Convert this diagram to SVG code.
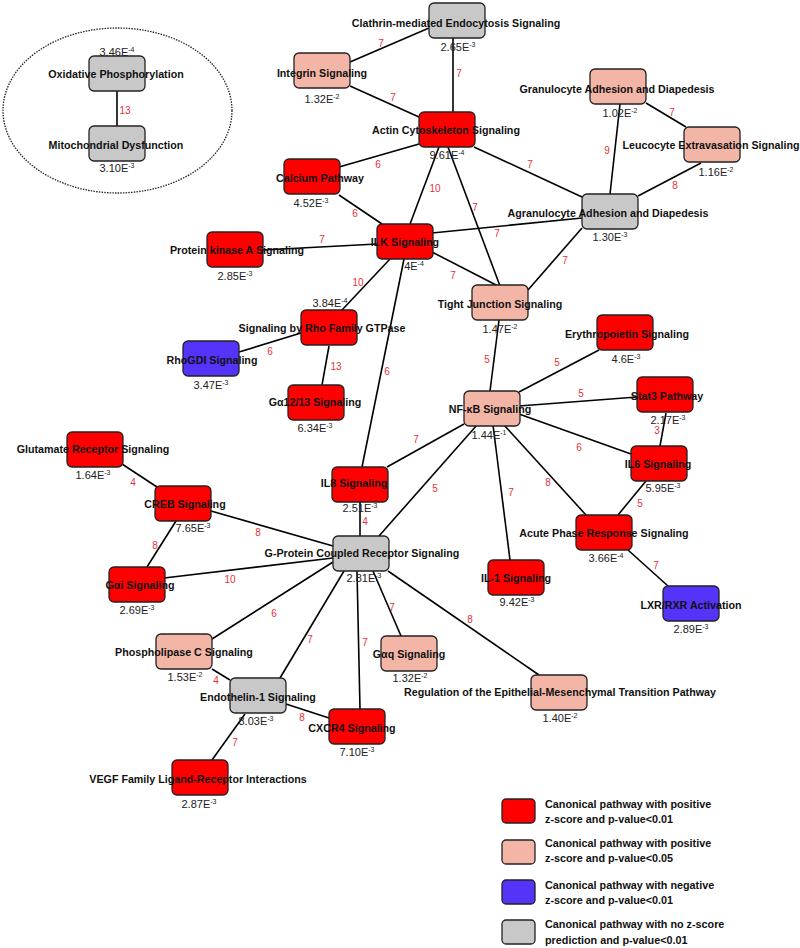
<svg xmlns="http://www.w3.org/2000/svg" width="800" height="948" viewBox="0 0 800 948">
<style>
.bx{stroke:#222;stroke-width:1.3}
.r{fill:#FF0000}.s{fill:#F3B5A6}.b{fill:#5533F8}.g{fill:#C8C8C8}
.lb{font-family:"Liberation Sans",Arial,sans-serif;font-weight:bold;font-size:10.7px;fill:#111;text-anchor:middle}
.pv{font-family:"Liberation Sans",Arial,sans-serif;font-size:11px;fill:#222;text-anchor:middle}
.pv tspan{font-size:7px}
.el{font-family:"Liberation Sans",Arial,sans-serif;font-size:10px;fill:#E8303A;text-anchor:middle}
.ln{stroke:#000;stroke-width:1.6;fill:none}
.lg{font-family:"Liberation Sans",Arial,sans-serif;font-weight:bold;font-size:10.8px;fill:#111}
</style>
<rect width="800" height="948" fill="#fff"/>
<ellipse id="cluster" cx="117.5" cy="110.5" rx="114.5" ry="82.5" fill="none" stroke="#222" stroke-width="1.3" stroke-dasharray="1.5,1.2"/>
<g id="connectors">
<line class="ln" x1="117" y1="91" x2="117" y2="126"/><text class="el" x="125" y="114">13</text>
<line class="ln" x1="350" y1="62" x2="429" y2="28"/><text class="el" x="381" y="47">7</text>
<line class="ln" x1="453" y1="38" x2="453" y2="112"/><text class="el" x="459" y="77">7</text>
<line class="ln" x1="350" y1="86" x2="419" y2="117"/><text class="el" x="393" y="101">7</text>
<line class="ln" x1="419" y1="144" x2="339" y2="167"/><text class="el" x="378" y="168">6</text>
<line class="ln" x1="339" y1="195" x2="382" y2="224"/><text class="el" x="355" y="217">6</text>
<line class="ln" x1="439" y1="147" x2="410" y2="224"/><text class="el" x="435" y="192">10</text>
<line class="ln" x1="448" y1="147" x2="500" y2="286"/><text class="el" x="475" y="211">7</text>
<line class="ln" x1="474" y1="147" x2="582" y2="197"/><text class="el" x="530" y="168">7</text>
<line class="ln" x1="646" y1="103" x2="686" y2="127"/><text class="el" x="672" y="116">7</text>
<line class="ln" x1="620" y1="104" x2="610" y2="194"/><text class="el" x="607" y="154">9</text>
<line class="ln" x1="701" y1="163" x2="638" y2="196"/><text class="el" x="675" y="189">8</text>
<line class="ln" x1="432" y1="233" x2="582" y2="218"/><text class="el" x="497" y="237">7</text>
<line class="ln" x1="582" y1="228" x2="528" y2="290"/><text class="el" x="565" y="264">7</text>
<line class="ln" x1="263" y1="250" x2="377" y2="244"/><text class="el" x="322" y="243">7</text>
<line class="ln" x1="390" y1="259" x2="342" y2="310"/><text class="el" x="358" y="286">10</text>
<line class="ln" x1="404" y1="259" x2="362" y2="467"/><text class="el" x="387" y="375">6</text>
<line class="ln" x1="432" y1="252" x2="500" y2="287"/><text class="el" x="453" y="279">7</text>
<line class="ln" x1="239" y1="352" x2="301" y2="333"/><text class="el" x="270" y="355">6</text>
<line class="ln" x1="329" y1="346" x2="322" y2="385"/><text class="el" x="336" y="370">13</text>
<line class="ln" x1="499" y1="320" x2="490" y2="391"/><text class="el" x="487" y="363">5</text>
<line class="ln" x1="464" y1="424" x2="387" y2="467"/><text class="el" x="416" y="443">7</text>
<line class="ln" x1="519" y1="392" x2="599" y2="350"/><text class="el" x="557" y="366">5</text>
<line class="ln" x1="519" y1="406" x2="637" y2="397"/><text class="el" x="581" y="397">5</text>
<line class="ln" x1="666" y1="413" x2="660" y2="446"/><text class="el" x="657" y="434">3</text>
<line class="ln" x1="519" y1="414" x2="631" y2="454"/><text class="el" x="579" y="451">6</text>
<line class="ln" x1="504" y1="425" x2="586" y2="515"/><text class="el" x="548" y="486">8</text>
<line class="ln" x1="493" y1="425" x2="510" y2="560"/><text class="el" x="511" y="496">7</text>
<line class="ln" x1="477" y1="425" x2="379" y2="536"/><text class="el" x="435" y="492">5</text>
<line class="ln" x1="646" y1="481" x2="618" y2="515"/><text class="el" x="640" y="507">5</text>
<line class="ln" x1="628" y1="550" x2="668" y2="586"/><text class="el" x="656" y="569">7</text>
<line class="ln" x1="122" y1="464" x2="157" y2="487"/><text class="el" x="133" y="486">4</text>
<line class="ln" x1="176" y1="521" x2="147" y2="567"/><text class="el" x="155" y="549">8</text>
<line class="ln" x1="211" y1="511" x2="333" y2="546"/><text class="el" x="258" y="536">8</text>
<line class="ln" x1="164" y1="578" x2="333" y2="558"/><text class="el" x="230" y="583">10</text>
<line class="ln" x1="360" y1="502" x2="360" y2="536"/><text class="el" x="365" y="525">4</text>
<line class="ln" x1="212" y1="639" x2="333" y2="562"/><text class="el" x="274" y="617">6</text>
<line class="ln" x1="212" y1="669" x2="230" y2="680"/><text class="el" x="216" y="684">4</text>
<line class="ln" x1="344" y1="571" x2="280" y2="678"/><text class="el" x="310" y="643">7</text>
<line class="ln" x1="357" y1="571" x2="360" y2="709"/><text class="el" x="365" y="646">7</text>
<line class="ln" x1="373" y1="571" x2="401" y2="636"/><text class="el" x="392" y="611">7</text>
<line class="ln" x1="388" y1="571" x2="539" y2="675"/><text class="el" x="470" y="623">8</text>
<line class="ln" x1="286" y1="704" x2="329" y2="718"/><text class="el" x="302" y="721">8</text>
<line class="ln" x1="245" y1="714" x2="212" y2="760"/><text class="el" x="235" y="746">7</text>
</g>
<g id="n-oxphos"><rect class="bx g" x="89" y="56" width="56" height="35" rx="5"/><text class="lb" x="116" y="78">Oxidative Phosphorylation</text><text class="pv" x="117" y="56">3.46E<tspan dy="-4">-4</tspan></text></g>
<g id="n-mito"><rect class="bx g" x="89" y="126" width="56" height="35" rx="5"/><text class="lb" x="116" y="149">Mitochondrial Dysfunction</text><text class="pv" x="117" y="172">3.10E<tspan dy="-4">-3</tspan></text></g>
<g id="n-clathrin"><rect class="bx g" x="429" y="3" width="56" height="35" rx="5"/><text class="lb" x="456" y="27">Clathrin-mediated Endocytosis Signaling</text><text class="pv" x="458" y="51">2.65E<tspan dy="-4">-3</tspan></text></g>
<g id="n-integrin"><rect class="bx s" x="294" y="53" width="56" height="35" rx="5"/><text class="lb" x="322" y="77">Integrin Signaling</text><text class="pv" x="322" y="103">1.32E<tspan dy="-4">-2</tspan></text></g>
<g id="n-actin"><rect class="bx r" x="419" y="112" width="56" height="35" rx="5"/><text class="lb" x="446" y="134">Actin Cytoskeleton Signaling</text><text class="pv" x="447" y="159">9.61E<tspan dy="-4">-4</tspan></text></g>
<g id="n-granulocyte"><rect class="bx s" x="590" y="69" width="56" height="35" rx="5"/><text class="lb" x="617" y="93">Granulocyte Adhesion and Diapedesis</text><text class="pv" x="620" y="117">1.02E<tspan dy="-4">-2</tspan></text></g>
<g id="n-leucocyte"><rect class="bx s" x="684" y="127" width="56" height="35" rx="5"/><text class="lb" x="711" y="149">Leucocyte Extravasation Signaling</text><text class="pv" x="716" y="176">1.16E<tspan dy="-4">-2</tspan></text></g>
<g id="n-calcium"><rect class="bx r" x="284" y="159" width="56" height="35" rx="5"/><text class="lb" x="320" y="182">Calcium Pathway</text><text class="pv" x="311" y="207">4.52E<tspan dy="-4">-3</tspan></text></g>
<g id="n-agranulocyte"><rect class="bx g" x="582" y="194" width="56" height="35" rx="5"/><text class="lb" x="608" y="217">Agranulocyte Adhesion and Diapedesis</text><text class="pv" x="610" y="241">1.30E<tspan dy="-4">-3</tspan></text></g>
<g id="n-pka"><rect class="bx r" x="207" y="232" width="56" height="35" rx="5"/><text class="lb" x="237" y="254">Protein kinase A Signaling</text><text class="pv" x="235" y="280">2.85E<tspan dy="-4">-3</tspan></text></g>
<g id="n-ilk"><rect class="bx r" x="377" y="224" width="56" height="35" rx="5"/><text class="lb" x="405" y="246">ILK Signaling</text><text class="pv" x="414" y="270">4E<tspan dy="-4">-4</tspan></text></g>
<g id="n-tight"><rect class="bx s" x="472" y="285" width="56" height="35" rx="5"/><text class="lb" x="500" y="308">Tight Junction Signaling</text><text class="pv" x="500" y="333">1.47E<tspan dy="-4">-2</tspan></text></g>
<g id="n-rho"><rect class="bx r" x="301" y="310" width="56" height="35" rx="5"/><text class="lb" x="322" y="332">Signaling by Rho Family GTPase</text><text class="pv" x="330" y="307">3.84E<tspan dy="-4">-4</tspan></text></g>
<g id="n-ery"><rect class="bx r" x="597" y="315" width="56" height="35" rx="5"/><text class="lb" x="627" y="338">Erythropoietin Signaling</text><text class="pv" x="626" y="363">4.6E<tspan dy="-4">-3</tspan></text></g>
<g id="n-rhogdi"><rect class="bx b" x="183" y="341" width="56" height="35" rx="5"/><text class="lb" x="212" y="364">RhoGDI Signaling</text><text class="pv" x="211" y="389">3.47E<tspan dy="-4">-3</tspan></text></g>
<g id="n-ga1213"><rect class="bx r" x="288" y="385" width="56" height="35" rx="5"/><text class="lb" x="315" y="406">Gα12/13 Signaling</text><text class="pv" x="315" y="432">6.34E<tspan dy="-4">-3</tspan></text></g>
<g id="n-nfkb"><rect class="bx s" x="464" y="391" width="56" height="35" rx="5"/><text class="lb" x="490" y="413">NF-κB Signaling</text><text class="pv" x="489" y="439">1.44E<tspan dy="-4">-1</tspan></text></g>
<g id="n-stat3"><rect class="bx r" x="637" y="377" width="56" height="35" rx="5"/><text class="lb" x="667" y="400">Stat3 Pathway</text><text class="pv" x="668" y="424">2.17E<tspan dy="-4">-3</tspan></text></g>
<g id="n-glutamate"><rect class="bx r" x="67" y="432" width="56" height="35" rx="5"/><text class="lb" x="93" y="453">Glutamate Receptor Signaling</text><text class="pv" x="93" y="479">1.64E<tspan dy="-4">-3</tspan></text></g>
<g id="n-il6"><rect class="bx r" x="631" y="446" width="56" height="35" rx="5"/><text class="lb" x="658" y="468">IL6 Signaling</text><text class="pv" x="663" y="492">5.95E<tspan dy="-4">-3</tspan></text></g>
<g id="n-il8"><rect class="bx r" x="332" y="467" width="56" height="35" rx="5"/><text class="lb" x="354" y="487">IL8 Signaling</text><text class="pv" x="360" y="512">2.51E<tspan dy="-4">-3</tspan></text></g>
<g id="n-creb"><rect class="bx r" x="155" y="486" width="56" height="35" rx="5"/><text class="lb" x="185" y="508">CREB Signaling</text><text class="pv" x="193" y="532">7.65E<tspan dy="-4">-3</tspan></text></g>
<g id="n-acute"><rect class="bx r" x="576" y="515" width="56" height="35" rx="5"/><text class="lb" x="604" y="537">Acute Phase Response Signaling</text><text class="pv" x="606" y="562">3.66E<tspan dy="-4">-4</tspan></text></g>
<g id="n-gpcr"><rect class="bx g" x="333" y="536" width="56" height="35" rx="5"/><text class="lb" x="362" y="557">G-Protein Coupled Receptor Signaling</text><text class="pv" x="364" y="582">2.81E<tspan dy="-4">-3</tspan></text></g>
<g id="n-il1"><rect class="bx r" x="488" y="560" width="56" height="35" rx="5"/><text class="lb" x="516" y="582">IL-1 Signaling</text><text class="pv" x="517" y="606">9.42E<tspan dy="-4">-3</tspan></text></g>
<g id="n-gai"><rect class="bx r" x="109" y="567" width="56" height="35" rx="5"/><text class="lb" x="140" y="589">Gαi Signaling</text><text class="pv" x="137" y="614">2.69E<tspan dy="-4">-3</tspan></text></g>
<g id="n-lxr"><rect class="bx b" x="663" y="586" width="56" height="35" rx="5"/><text class="lb" x="691" y="609">LXR/RXR Activation</text><text class="pv" x="691" y="633">2.89E<tspan dy="-4">-3</tspan></text></g>
<g id="n-plc"><rect class="bx s" x="156" y="634" width="56" height="35" rx="5"/><text class="lb" x="184" y="656">Phospholipase C Signaling</text><text class="pv" x="185" y="681">1.53E<tspan dy="-4">-2</tspan></text></g>
<g id="n-gaq"><rect class="bx s" x="381" y="636" width="56" height="35" rx="5"/><text class="lb" x="409" y="658">Gαq Signaling</text><text class="pv" x="410" y="682">1.32E<tspan dy="-4">-2</tspan></text></g>
<g id="n-emt"><rect class="bx s" x="531" y="675" width="56" height="35" rx="5"/><text class="lb" x="560" y="696">Regulation of the Epithelial-Mesenchymal Transition Pathway</text><text class="pv" x="560" y="722">1.40E<tspan dy="-4">-2</tspan></text></g>
<g id="n-endothelin"><rect class="bx g" x="230" y="678" width="56" height="35" rx="5"/><text class="lb" x="258" y="701">Endothelin-1 Signaling</text><text class="pv" x="256" y="725">8.03E<tspan dy="-4">-3</tspan></text></g>
<g id="n-cxcr4"><rect class="bx r" x="329" y="709" width="56" height="35" rx="5"/><text class="lb" x="352" y="732">CXCR4 Signaling</text><text class="pv" x="357" y="756">7.10E<tspan dy="-4">-3</tspan></text></g>
<g id="n-vegf"><rect class="bx r" x="172" y="760" width="56" height="35" rx="5"/><text class="lb" x="198" y="783">VEGF Family Ligand-Receptor Interactions</text><text class="pv" x="199" y="808">2.87E<tspan dy="-4">-3</tspan></text></g>
<g id="legend">
<rect class="bx r" x="502" y="799" width="33" height="24" rx="4"/>
<text class="lg" x="545" y="808">Canonical pathway with positive</text><text class="lg" x="545" y="823">z-score and p-value&lt;0.01</text>
<rect class="bx s" x="502" y="840" width="33" height="24" rx="4"/>
<text class="lg" x="545" y="847">Canonical pathway with positive</text><text class="lg" x="545" y="862">z-score and p-value&lt;0.05</text>
<rect class="bx b" x="502" y="880" width="33" height="24" rx="4"/>
<text class="lg" x="545" y="889">Canonical pathway with negative</text><text class="lg" x="545" y="904">z-score and p-value&lt;0.01</text>
<rect class="bx g" x="502" y="920" width="33" height="24" rx="4"/>
<text class="lg" x="545" y="928">Canonical pathway with no z-score</text><text class="lg" x="545" y="944">prediction and p-value&lt;0.01</text>
</g>
</svg>
